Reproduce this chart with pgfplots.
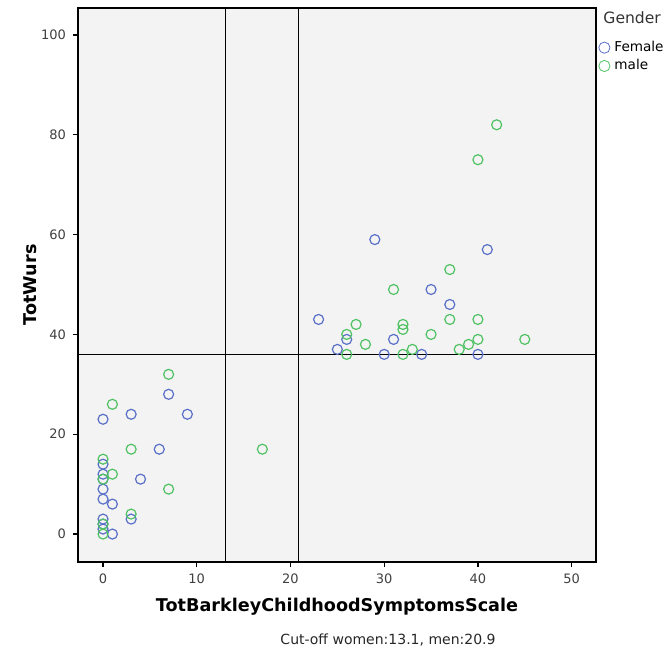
\documentclass[border=0pt]{standalone}
\usepackage{pgfplots}
\pgfplotsset{compat=1.18}
\usepackage{fontspec}
\setmainfont{DejaVu Sans}
\definecolor{spssblue}{HTML}{5A70C8}
\definecolor{spssgreen}{HTML}{50C264}
\definecolor{plotbg}{HTML}{F3F3F3}
\begin{document}
\begin{tikzpicture}
% page frame: 1px of the reference = 0.5pt, axis box at the origin
\path[use as bounding box] (-39pt,-46pt) rectangle (294.5pt,281pt);
\begin{axis}[
  scale only axis,
  width=259pt, height=277pt,
  xmin=-2.67, xmax=52.6,
  ymin=-5.6, ymax=105.4,
  xtick={0,10,...,50}, ytick={0,20,...,100},
  tick pos=left, tick align=outside,
  major tick length=2.5pt,
  axis background/.style={fill=plotbg},
  axis line style={black, line width=0.6pt},
  every tick/.style={black, line width=0.6pt},
  tick label style={font=\fontsize{6.5}{7}\selectfont, text=black!75},
  /pgf/number format/assume math mode=true,
  xlabel={\bfseries TotBarkleyChildhoodSymptomsScale},
  ylabel={\bfseries TotWurs},
  label style={font=\fontsize{8.8}{10}\selectfont},
  xlabel style={at={(axis description cs:0.5,-0.0812)}, anchor=center},
  ylabel style={at={(axis description cs:-0.0927,0.5)}, anchor=center},
  legend style={draw=none, fill=none, at={(axis description cs:1.0,0.952)}, anchor=north west,
    font=\fontsize{6.8}{7}\selectfont, row sep=-1.5pt,
    legend cell align=left, inner sep=1pt},
  legend image code/.code={\draw[#1] (0.12cm,0cm) circle (2.8pt);},
  clip=true,
]
\addplot[only marks, mark=o, mark size=2.5pt, spssblue, mark options={line width=0.6pt}]
coordinates {
(7,28) (3,24) (9,24) (0,23) (6,17) (0,14) (0,12) (0,11) (4,11) (0,9) (0,7) (1,6)
(3,3) (0,3) (0,2) (0,1) (1,0)
(29,59) (41,57) (35,49) (37,46) (23,43) (26,39) (31,39) (25,37) (30,36) (34,36) (40,36)
};
\addlegendentry{Female}
\addplot[only marks, mark=o, mark size=2.5pt, spssgreen, mark options={line width=0.6pt}]
coordinates {
(7,32) (1,26) (3,17) (17,17) (0,15) (1,12) (0,11) (7,9) (3,4) (0,2) (0,0)
(42,82) (40,75) (37,53) (31,49) (37,43) (40,43) (27,42) (32,42) (32,41) (26,40) (35,40)
(40,39) (45,39) (28,38) (39,38) (33,37) (38,37) (26,36) (32,36)
};
\addlegendentry{male}
\addplot[black, line width=0.5pt, forget plot] coordinates {(13.1,-20) (13.1,120)};
\addplot[black, line width=0.5pt, forget plot] coordinates {(20.9,-20) (20.9,120)};
\addplot[black, line width=0.5pt, forget plot] coordinates {(-10,36) (60,36)};
\end{axis}
\node[anchor=west, font=\fontsize{7.8}{8}\selectfont, text=black!80, inner sep=0pt] at (262.5pt,272pt) {Gender};
\node[font=\fontsize{7}{8}\selectfont, text=black!85] at (155pt,-39pt) {Cut-off women:13.1, men:20.9};
\end{tikzpicture}
\end{document}
